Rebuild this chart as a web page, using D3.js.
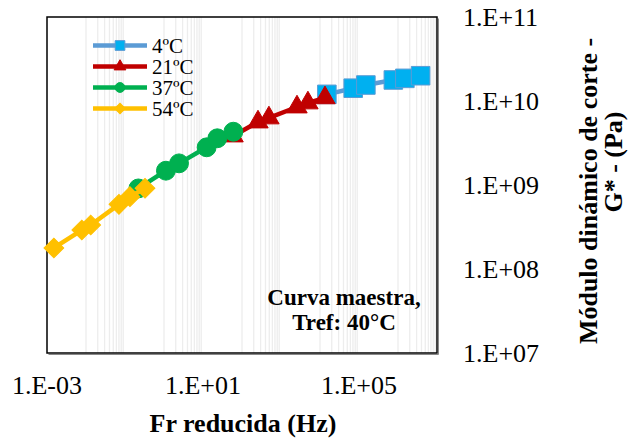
<!DOCTYPE html>
<html>
<head>
<meta charset="utf-8">
<script src="https://cdn.jsdelivr.net/npm/d3@7"></script>
<style>
  body { margin: 0; background: #fff; }
  text { font-family: "Liberation Serif", "Times New Roman", serif; }
</style>
</head>
<body>
<script>
// Data
var seriesNames = ["4ºC", "21ºC", "37ºC", "54ºC"];
var freq4 = [1.5e4, 7.1e4, 1.5e5, 7.6e5, 1.5e6, 3.8e6];
var g4 = [1.20e10, 1.42e10, 1.55e10, 1.78e10, 1.86e10, 2.0e10];
var freq21 = [59, 257, 490, 2570, 4900, 1.34e4];
var g21 = [3.83e9, 5.62e9, 6.28e9, 8.48e9, 9.47e9, 1.09e10];
var freq37 = [0.22, 1.12, 2.43, 12.4, 23.3, 60];
var g37 = [9.1e8, 1.48e9, 1.81e9, 2.81e9, 3.60e9, 4.31e9];
var freq54 = [1.5e-3, 7.8e-3, 1.32e-2, 7.0e-2, 0.134, 0.326];
var g54 = [1.78e8, 2.91e8, 3.34e8, 5.89e8, 7.26e8, 9.14e8];

var xTicks = [1e-3, 1e1, 1e5];
var xTickLabels = ["1.E-03", "1.E+01", "1.E+05"];
var yTicks = [1e7, 1e8, 1e9, 1e10, 1e11];
var yTickLabels = ["1.E+07", "1.E+08", "1.E+09", "1.E+10", "1.E+11"];
var gridDecades = [-2, 0, 2, 4, 6];

// Dimensions
var width = 630;
var height = 438;
var plotL = 47, plotR = 437, plotT = 17, plotB = 353;

var x = d3.scaleLog().domain([1e-3, 1e7]).range([plotL, plotR]);
var y = d3.scaleLog().domain([1e7, 1e11]).range([plotB, plotT]);

var svg = d3.select("body").append("svg")
  .attr("width", width)
  .attr("height", height);

// Minor vertical gridlines (Excel style)
var gridVals = [];
gridDecades.forEach(function (k) {
  for (var n = 1; n <= 9; n++) gridVals.push(n * Math.pow(10, k));
});
svg.append("g")
  .selectAll("line")
  .data(gridVals)
  .enter()
  .append("line")
  .attr("x1", function (d) { return x(d); })
  .attr("x2", function (d) { return x(d); })
  .attr("y1", plotT)
  .attr("y2", plotB)
  .attr("stroke", "#ededed")
  .attr("stroke-width", 1.3);

// Plot border (with a faint shadow at bottom/right)
svg.append("path")
  .attr("d", "M" + (plotL + 1.5) + "," + (plotB + 1.5) + "H" + (plotR + 1.5) + "V" + (plotT + 1.5))
  .attr("fill", "none")
  .attr("stroke", "#888")
  .attr("stroke-width", 1);
svg.append("rect")
  .attr("x", plotL)
  .attr("y", plotT)
  .attr("width", plotR - plotL)
  .attr("height", plotB - plotT)
  .attr("fill", "none")
  .attr("stroke", "#000")
  .attr("stroke-width", 1.5);

// Series definitions
var series = [
  { name: seriesNames[0], fx: freq4, gy: g4, line: "#5B9BD5", fill: "#00B0F0", stroke: "#5B9BD5", sym: d3.symbolSquare, size: 345, rot: 0, lsize: 95 },
  { name: seriesNames[1], fx: freq21, gy: g21, line: "#C00000", fill: "#C00000", stroke: "#C00000", sym: d3.symbolTriangle, size: 180, rot: 0, lsize: 60 },
  { name: seriesNames[2], fx: freq37, gy: g37, line: "#00B050", fill: "#00B050", stroke: "#00B050", sym: d3.symbolCircle, size: 280, rot: 0, lsize: 75 },
  { name: seriesNames[3], fx: freq54, gy: g54, line: "#FFC000", fill: "#FFC000", stroke: "#FFC000", sym: d3.symbolSquare, size: 195, rot: 45, lsize: 55 }
];

var line = d3.line()
  .x(function (d) { return x(d[0]); })
  .y(function (d) { return y(d[1]); });

series.forEach(function (s) {
  var pts = s.fx.map(function (f, i) { return [f, s.gy[i]]; });
  var g = svg.append("g");
  g.append("path")
    .attr("d", line(pts))
    .attr("fill", "none")
    .attr("stroke", s.line)
    .attr("stroke-width", 4.5)
    .attr("stroke-linejoin", "round");
  g.selectAll("path.m")
    .data(pts)
    .enter()
    .append("path")
    .attr("class", "m")
    .attr("d", d3.symbol().type(s.sym).size(s.size))
    .attr("transform", function (d) {
      return "translate(" + x(d[0]) + "," + y(d[1]) + ") rotate(" + s.rot + ")";
    })
    .attr("fill", s.fill)
    .attr("stroke", s.stroke)
    .attr("stroke-width", 1);
});

// Legend
var legend = svg.append("g");
series.forEach(function (s, i) {
  var ly = 45.5 + i * 21;
  legend.append("line")
    .attr("x1", 93).attr("x2", 147)
    .attr("y1", ly).attr("y2", ly)
    .attr("stroke", s.line)
    .attr("stroke-width", 4.5);
  legend.append("path")
    .attr("d", d3.symbol().type(s.sym).size(s.lsize))
    .attr("transform", "translate(120," + ly + ") rotate(" + s.rot + ")")
    .attr("fill", s.fill)
    .attr("stroke", s.stroke);
  legend.append("text")
    .attr("x", 152)
    .attr("y", ly + 7)
    .style("font-size", "21px")
    .text(s.name);
});

// X tick labels
svg.append("g")
  .selectAll("text")
  .data(xTicks)
  .enter()
  .append("text")
  .attr("x", function (d) { return x(d); })
  .attr("y", 394)
  .attr("text-anchor", "middle")
  .style("font-size", "26px")
  .text(function (d, i) { return xTickLabels[i]; });

// Y tick labels (right side)
svg.append("g")
  .selectAll("text")
  .data(yTicks)
  .enter()
  .append("text")
  .attr("x", 463)
  .attr("y", function (d) { return y(d) + 9; })
  .style("font-size", "26px")
  .text(function (d, i) { return yTickLabels[i]; });

// Axis titles
svg.append("text")
  .attr("x", 243)
  .attr("y", 432)
  .attr("text-anchor", "middle")
  .style("font-size", "26px")
  .style("font-weight", "bold")
  .text("Fr reducida (Hz)");

svg.append("text")
  .attr("transform", "translate(597,191) rotate(-90)")
  .attr("text-anchor", "middle")
  .style("font-size", "26px")
  .style("font-weight", "bold")
  .text("Módulo dinámico de corte -");

svg.append("text")
  .attr("transform", "translate(622,162) rotate(-90)")
  .attr("text-anchor", "middle")
  .style("font-size", "26px")
  .style("font-weight", "bold")
  .text("G* - (Pa)");

// Annotation
svg.append("text")
  .attr("x", 344)
  .attr("y", 305)
  .attr("text-anchor", "middle")
  .style("font-size", "23px")
  .style("font-weight", "bold")
  .text("Curva maestra,");

svg.append("text")
  .attr("x", 344)
  .attr("y", 330)
  .attr("text-anchor", "middle")
  .style("font-size", "23px")
  .style("font-weight", "bold")
  .text("Tref: 40°C");
</script>
</body>
</html>
